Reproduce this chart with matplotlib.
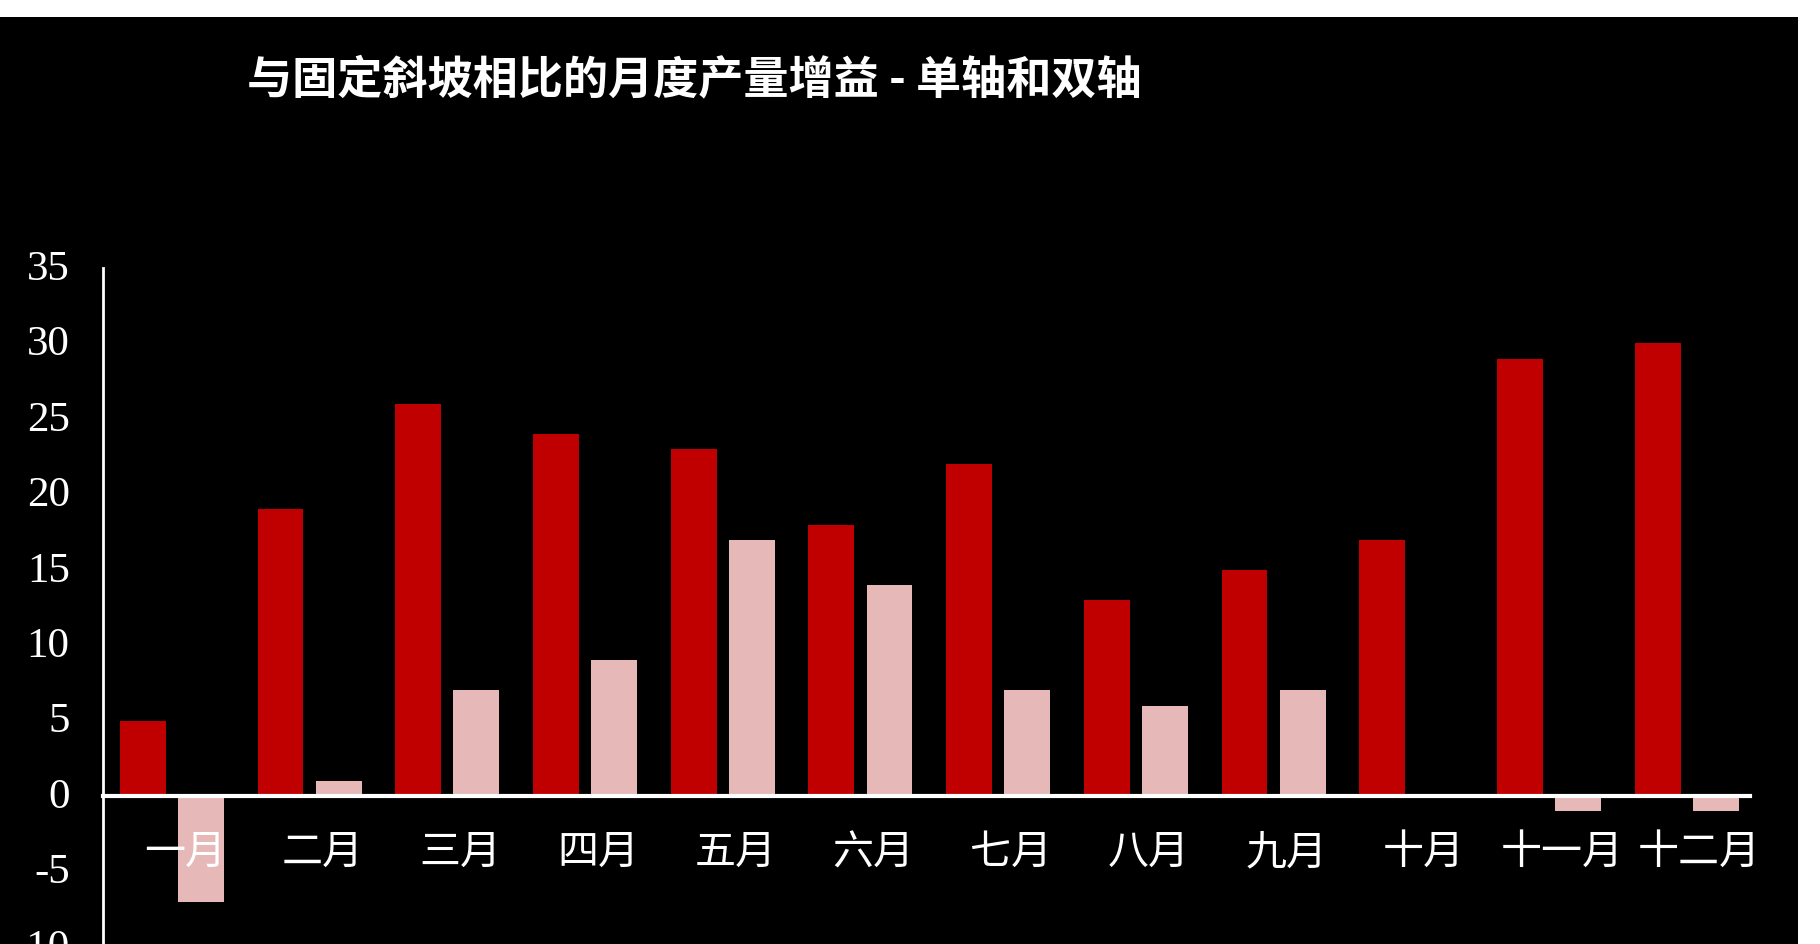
import matplotlib
matplotlib.use("Agg")
import matplotlib.pyplot as plt
import matplotlib.transforms as mtransforms
from matplotlib.patches import Rectangle
import numpy as np

# données
mois = ["一月", "二月", "三月", "四月", "五月", "六月",
        "七月", "八月", "九月", "十月", "十一月", "十二月"]
gain_single = [5, 19, 26, 24, 23, 18, 22, 13, 15, 17, 29, 30]
gain_dual = [-7, 1, 7, 9, 17, 14, 7, 6, 7, 0, -1, -1]
y_ticks = [-10, -5, 0, 5, 10, 15, 20, 25, 30, 35]
y_labels = ["-10", "-5", "0", "5", "10", "15", "20", "25", "30", "35"]
titre = "与固定斜坡相比的月度产量增益 - 单轴和双轴"

plt.rcParams['font.family'] = ['Noto Sans CJK SC', 'DejaVu Sans']

fig = plt.figure(figsize=(18.2, 9.44), dpi=100, facecolor='white')
# fond noir (le haut et la droite restent blancs)
fig.patches.append(Rectangle((0, 0), 1798 / 1820, (944 - 17) / 944,
                             transform=fig.transFigure, facecolor='black',
                             edgecolor='none', zorder=-5))

ax = fig.add_axes([103 / 1820, -3 / 944, (1750 - 103) / 1820, (947 - 268) / 944])
ax.set_facecolor('black')
ax.set_axisbelow(False)

x = np.arange(len(mois))
w = 0.333
ax.bar(x - 0.211, gain_single, width=w, color='#C00000', zorder=1)
ax.bar(x + 0.211, gain_dual, width=w, color='#E6B9B8', zorder=1)

ax.set_xlim(-0.5, 11.46)
ax.set_ylim(-10, 35)

for s in ['top', 'right']:
    ax.spines[s].set_visible(False)
ax.spines['left'].set_color('white')
ax.spines['left'].set_linewidth(2)
ax.spines['bottom'].set_position(('data', 0))
ax.spines['bottom'].set_color('white')
ax.spines['bottom'].set_linewidth(3)

ax.set_yticks(y_ticks)
ax.set_yticklabels(y_labels, family='Liberation Serif', fontsize=31, color='white')
ax.tick_params(axis='y', length=0, pad=24)
monte = mtransforms.ScaledTranslation(0, 0.03, fig.dpi_scale_trans)
for lab in ax.get_yticklabels():
    lab.set_transform(lab.get_transform() + monte)

ax.set_xticks(x)
ax.set_xticklabels(mois, fontsize=29.5, color='white', fontweight='light')
ax.tick_params(axis='x', length=0, pad=26)
decal = mtransforms.ScaledTranslation(0.13, 0, fig.dpi_scale_trans)
for lab in ax.get_xticklabels():
    lab.set_transform(lab.get_transform() + decal)

fig.text(247 / 1820, 1 - 80 / 944, titre, fontsize=32.5, fontweight='bold',
         color='white', ha='left', va='center')

fig.savefig("out.png", dpi=100, facecolor=fig.get_facecolor())
